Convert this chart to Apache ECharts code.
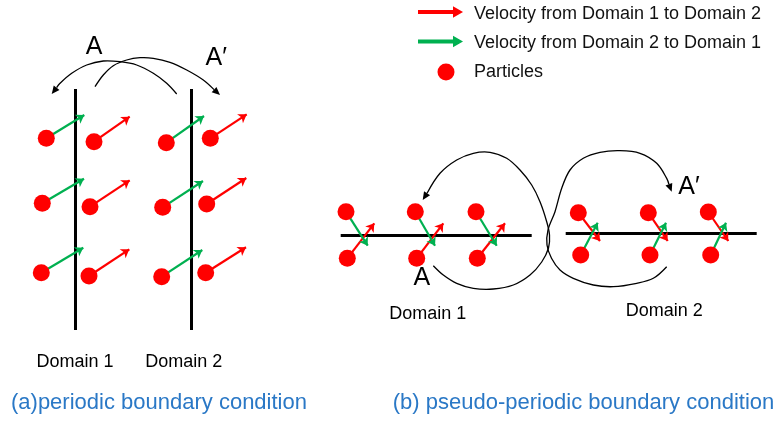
<!DOCTYPE html>
<html>
<head>
<meta charset="utf-8">
<script src="https://cdn.jsdelivr.net/npm/echarts@6/dist/echarts.min.js"></script>
<style>
html,body{margin:0;padding:0;background:#fff;}
#main{width:775px;height:421px;}
</style>
</head>
<body>
<div id="main"></div>
<script>
// ---- data (diagram coordinates, y grows downward) ----
const seriesNames = ['Velocity from Domain 1 to Domain 2', 'Velocity from Domain 2 to Domain 1', 'Particles'];

// domain boundaries [x0, y0, x1, y1]
const boundaries = [
  [75.7, 89, 75.7, 330], [191, 89, 191, 330],
  [340.7, 235.7, 531.7, 235.7], [565.7, 233.7, 756.7, 233.7]
];

// particle centres
const particles = [
  [46.3, 138.3], [94, 141.7], [166.3, 142.7], [210.3, 138.3],
  [42.3, 203.3], [90, 206.7], [162.7, 207.3], [206.7, 204],
  [41.3, 272.7], [89, 276], [161.7, 276.7], [205.7, 272.7],
  [346, 211.7], [415.3, 211.7], [476, 211.7],
  [347.3, 258.3], [416.7, 258.3], [477.3, 258.3],
  [578.3, 212.7], [648.3, 212.7], [708.3, 212],
  [580.7, 255], [650, 255], [710.7, 255]
];

// velocity arrows [x0, y0, x1, y1]
const redArrows = [
  [94, 141.7, 129.7, 116.7], [210.3, 138.3, 246.7, 114.3],
  [90, 206.7, 129.7, 180.3], [206.7, 204, 246.3, 178],
  [89, 276, 129.3, 249.3], [205.7, 272.7, 246, 247.3],
  [347.3, 258.3, 374.3, 223.3], [416.7, 258.3, 443.3, 223.3], [477.3, 258.3, 505, 223.3],
  [578.3, 212.7, 600, 241], [648.3, 212.7, 667.7, 241], [708.3, 212, 728.3, 241]
];
const greenArrows = [
  [46.3, 138.3, 84.3, 115], [166.3, 142.7, 204, 116],
  [42.3, 203.3, 84, 178.7], [162.7, 207.3, 203, 181],
  [41.3, 272.7, 83.3, 247.7], [161.7, 276.7, 202.3, 250],
  [346, 211.7, 367.7, 245.7], [415.3, 211.7, 435, 245.7], [476, 211.7, 496.7, 245.7],
  [580.7, 255, 597.7, 222.7], [650, 255, 666, 222.7], [710.7, 255, 726, 222.7]
];

// mapping curves (traced points, arrow at the last point)
const curveA1 = [[176.7, 94], [166.7, 83.3], [153.3, 73.3], [136.7, 65], [120, 61.7], [103.3, 61], [86.7, 65], [71.7, 73.3], [60, 83.3], [51.7, 94]];
const curveA2 = [[95, 86.7], [103.3, 75], [113.3, 65.7], [126.7, 60], [140, 57.7], [153.3, 58.3], [170, 62.3], [186.7, 70], [203.3, 80], [220, 95]];
const curveB1 = [[433.3, 265.7], [443.3, 275], [456.7, 283.3], [473.3, 288.3], [493.3, 289], [513.3, 285], [530, 275], [541.7, 262], [548.5, 248], [549.5, 235], [546.7, 221.7], [540, 201.7], [531.7, 185], [520, 170], [506.7, 158.3], [490, 152.3], [473.3, 153.3], [456.7, 160], [440, 173.3], [422.7, 200]];
const curveB2 = [[666.7, 266.7], [653.3, 278.3], [636.7, 283.3], [613.3, 286.7], [593.3, 285], [573.3, 278.3], [560, 270], [551.5, 258.3], [547, 245], [548, 230], [555, 211.7], [561.7, 188.3], [570, 170], [583.3, 158.3], [600, 152.3], [620, 150.7], [640, 153.3], [656.7, 163.3], [666.7, 178.3], [671.7, 191.7]];

// texts
const markTexts = ['A', 'A\u2032', 'A', 'A\u2032'];
const domainTexts = ['Domain 1', 'Domain 2', 'Domain 1', 'Domain 2'];
const captions = ['(a)periodic boundary condition', '(b) pseudo-periodic boundary condition'];

// ---- chart ----
const FONT = '"Liberation Sans", Arial, sans-serif';
const curves = [curveA1, curveA2, curveB1, curveB2];
const toLines = arr => arr.map(a => ({ coords: [[a[0], a[1]], [a[2], a[3]]] }));

const chart = echarts.init(document.getElementById('main'), null, { renderer: 'canvas' });

function txt(text, x, y, size, color, align) {
  return {
    type: 'text', x: x, y: y, z: 100,
    style: { text: text, fontSize: size, fontFamily: FONT, fill: color, align: align || 'center', verticalAlign: 'middle' }
  };
}

const arrowIcon = 'path://M0,0L0,0M42,18L42,18M0,6L35,6L35,3L42,7L35,11L35,8L0,8Z';
const dotIcon = 'path://M0,0L0,0M42,18L42,18M35.5,9A8.5,8.5,0,1,1,18.5,9A8.5,8.5,0,1,1,35.5,9Z';

chart.setOption({
  animation: false,
  backgroundColor: '#fff',
  grid: { left: 0, right: 0, top: 0, bottom: 0, containLabel: false },
  xAxis: { type: 'value', min: 0, max: 775, show: false },
  yAxis: { type: 'value', min: 0, max: 421, inverse: true, show: false },
  legend: {
    left: 418, top: 4, orient: 'vertical', padding: 0,
    itemWidth: 42, itemHeight: 18, itemGap: 9.5,
    textStyle: { fontSize: 18, fontFamily: FONT, color: '#111', padding: [0, 0, 0, 8] },
    data: [
      { name: seriesNames[0], icon: arrowIcon },
      { name: seriesNames[1], icon: arrowIcon },
      { name: seriesNames[2], icon: dotIcon }
    ],
    selectedMode: false
  },
  series: [
    {
      name: 'boundaries', type: 'lines', coordinateSystem: 'cartesian2d',
      data: toLines(boundaries), symbol: 'none',
      lineStyle: { color: '#000', width: 3, opacity: 1 }, z: 1, silent: true
    },
    {
      name: 'curves', type: 'custom', coordinateSystem: 'cartesian2d',
      data: curves.map(c => c[0]), z: 3, silent: true,
      renderItem: function (params, api) {
        const pts = curves[params.dataIndex].map(p => api.coord(p));
        const n = pts.length;
        const end = pts[n - 1], prev = pts[n - 2];
        const ang = Math.atan2(end[1] - prev[1], end[0] - prev[0]);
        const L = 8, W = 3.6;
        const bx = end[0] - L * Math.cos(ang), by = end[1] - L * Math.sin(ang);
        const head = [end,
          [bx + W * Math.sin(ang), by - W * Math.cos(ang)],
          [bx - W * Math.sin(ang), by + W * Math.cos(ang)]];
        const body = pts.slice(0, n - 1).concat([[bx, by]]);
        return {
          type: 'group', children: [
            { type: 'polyline', shape: { points: body, smooth: 0.35 }, style: { stroke: '#000', lineWidth: 1.3, fill: 'none' } },
            { type: 'polygon', shape: { points: head }, style: { fill: '#000' } }
          ]
        };
      }
    },
    {
      name: seriesNames[0], type: 'lines', coordinateSystem: 'cartesian2d',
      data: toLines(redArrows), symbol: ['none', 'arrow'], symbolSize: 8,
      itemStyle: { color: '#FF0000' },
      lineStyle: { color: '#FF0000', width: 2.2, opacity: 1 }, z: 4
    },
    {
      name: seriesNames[1], type: 'lines', coordinateSystem: 'cartesian2d',
      data: toLines(greenArrows), symbol: ['none', 'arrow'], symbolSize: 8,
      itemStyle: { color: '#00B050' },
      lineStyle: { color: '#00B050', width: 2.2, opacity: 1 }, z: 4
    },
    {
      name: seriesNames[2], type: 'scatter', data: particles,
      symbol: 'circle', symbolSize: 17,
      itemStyle: { color: '#FF0000', opacity: 1 }, z: 5
    }
  ],
  graphic: [
    txt(markTexts[0], 94, 47, 25, '#000'),
    txt(markTexts[1], 205.5, 58, 25, '#000', 'left'),
    txt(markTexts[2], 421.8, 278.3, 25, '#000'),
    txt(markTexts[3], 678.3, 187.3, 25, '#000', 'left'),
    txt(domainTexts[0], 75, 362.3, 18, '#000'),
    txt(domainTexts[1], 183.7, 362.3, 18, '#000'),
    txt(domainTexts[2], 427.7, 314, 18, '#000'),
    txt(domainTexts[3], 664.2, 311, 18, '#000'),
    txt(captions[0], 11, 403.3, 22, '#2A78C6', 'left'),
    txt(captions[1], 392.7, 403.3, 22, '#2A78C6', 'left')
  ]
});
</script>
</body>
</html>
